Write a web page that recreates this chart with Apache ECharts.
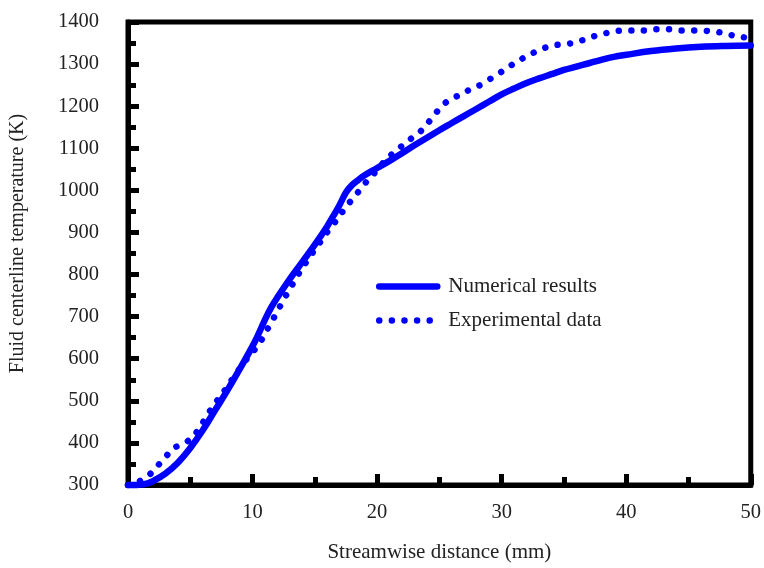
<!DOCTYPE html>
<html>
<head>
<meta charset="utf-8">
<script src="https://cdn.jsdelivr.net/npm/echarts@6/dist/echarts.min.js"></script>
<style>html,body{margin:0;padding:0;background:#fff}#c{width:764px;height:568px}</style>
</head>
<body>
<div id="c"></div>
<script>
// Numerical results (x in mm, T in K)
var numX = [0, 0.5, 1, 1.5, 2, 3, 4, 5, 6, 7, 8, 9, 10, 10.5, 11, 11.5, 12, 13, 14, 15, 16, 16.5, 17, 17.5, 18, 18.5, 19, 20, 21, 22, 23, 24, 25, 26, 27, 28, 29, 30, 31, 32, 33, 34, 35, 36, 37, 38, 39, 40, 42, 44, 46, 48, 50];
var numT = [300, 300, 301, 303, 309, 327, 353, 388, 430, 478, 526, 577, 630, 660, 693, 722, 746, 790, 830, 871, 915, 940, 966, 995, 1013, 1025, 1036, 1053, 1070, 1088, 1107, 1125, 1143, 1160, 1177, 1194, 1211, 1228, 1242, 1255, 1266, 1276, 1286, 1294, 1302, 1310, 1317, 1322, 1331, 1337, 1341, 1343, 1344];
// Experimental data
var expX = [0, 0.9, 1.7, 2.3, 3.0, 3.7, 4.6, 5.5, 6.4, 7.0, 7.6, 8.5, 9.5, 10.5, 11.0, 11.5, 12.0, 12.5, 13.0, 13.5, 14.5, 15.5, 16.3, 16.9, 17.4, 18.1, 18.7, 19.3, 20.0, 20.6, 21.3, 22.1, 22.9, 23.7, 24.3, 24.9, 25.7, 26.5, 27.5, 28.4, 29.1, 29.9, 30.7, 31.6, 32.5, 33.3, 34.3, 35.3, 36.3, 37.3, 38.3, 39.3, 40.3, 41.4, 42.4, 43.4, 44.4, 45.4, 46.4, 47.4, 48.4, 49.4, 50];
var expT = [300, 309, 324, 343, 366, 388, 400, 425, 468, 494, 518, 557, 598, 634, 660, 686, 713, 741, 766, 792, 838, 880, 913, 935, 957, 982, 1004, 1026, 1048, 1069, 1089, 1108, 1127, 1146, 1168, 1190, 1213, 1225, 1240, 1252, 1265, 1280, 1296, 1312, 1326, 1337, 1345, 1348, 1355, 1365, 1373, 1379, 1380, 1380, 1383, 1383, 1380, 1380, 1379, 1376, 1369, 1364, 1359];
var xTicks = [0, 10, 20, 30, 40, 50];
var yTicks = [300, 400, 500, 600, 700, 800, 900, 1000, 1100, 1200, 1300, 1400];

function pairs(xs, ys) { return xs.map(function (x, i) { return [x, ys[i]]; }); }

var font = 'Liberation Serif';
var blue = '#0000ff';
var solidStyle = { color: blue, width: 6.5, cap: 'round' };
var dotStyle = { color: blue, width: 6.5, type: [0.01, 12.6], cap: 'round' };
var chart = echarts.init(document.getElementById('c'));
chart.setOption({
  animation: false,
  backgroundColor: '#fff',
  grid: { left: 128, right: 12, top: 22, bottom: 82, show: true, borderColor: '#000', borderWidth: 5, backgroundColor: 'transparent' },
  legend: {
    orient: 'vertical', left: 371, top: 271, itemWidth: 58, itemHeight: 14, itemGap: 13,
    textStyle: { fontFamily: font, fontSize: 21, color: '#222', padding: [0, 0, 0, 6] },
    itemStyle: { opacity: 0 },
    data: [
      { name: 'Numerical results', lineStyle: solidStyle, itemStyle: { opacity: 0 } },
      { name: 'Experimental data', lineStyle: dotStyle, itemStyle: { opacity: 0 } }
    ]
  },
  xAxis: {
    type: 'value', min: xTicks[0], max: xTicks[xTicks.length - 1], interval: 10,
    name: 'Streamwise distance (mm)', nameLocation: 'middle', nameGap: 57,
    nameTextStyle: { fontFamily: font, fontSize: 21, color: '#222' },
    axisLine: { show: true, lineStyle: { color: '#000', width: 5 } },
    axisTick: { show: true, inside: true, length: 11, lineStyle: { color: '#000', width: 5 } },
    minorTick: { show: true, splitNumber: 2, length: 8, lineStyle: { color: '#000', width: 5 } },
    axisLabel: { fontFamily: font, fontSize: 20.5, color: '#222', margin: 17 },
    splitLine: { show: false }
  },
  yAxis: {
    type: 'value', min: yTicks[0], max: yTicks[yTicks.length - 1], interval: 100,
    name: 'Fluid centerline temperature (K)', nameLocation: 'middle', nameGap: 100,
    nameTextStyle: { fontFamily: font, fontSize: 20, color: '#222', padding: [0, 0, 0, 20] },
    axisLine: { show: true, lineStyle: { color: '#000', width: 5 } },
    axisTick: { show: true, inside: true, length: 11, lineStyle: { color: '#000', width: 5 } },
    minorTick: { show: true, splitNumber: 2, length: 8, lineStyle: { color: '#000', width: 5 } },
    axisLabel: { fontFamily: font, fontSize: 20.5, color: '#222', margin: 29, formatter: function (v) { return String(v); } },
    splitLine: { show: false }
  },
  series: [
    {
      name: 'Numerical results', type: 'line', data: pairs(numX, numT), smooth: 0.4,
      showSymbol: false, symbol: 'none', clip: false, z: 3,
      lineStyle: solidStyle, itemStyle: { color: blue }
    },
    {
      name: 'Experimental data', type: 'line', data: pairs(expX, expT), smooth: 0.4,
      showSymbol: false, symbol: 'none', clip: false, z: 4,
      lineStyle: dotStyle, itemStyle: { color: blue }
    }
  ]
});
</script>
</body>
</html>
